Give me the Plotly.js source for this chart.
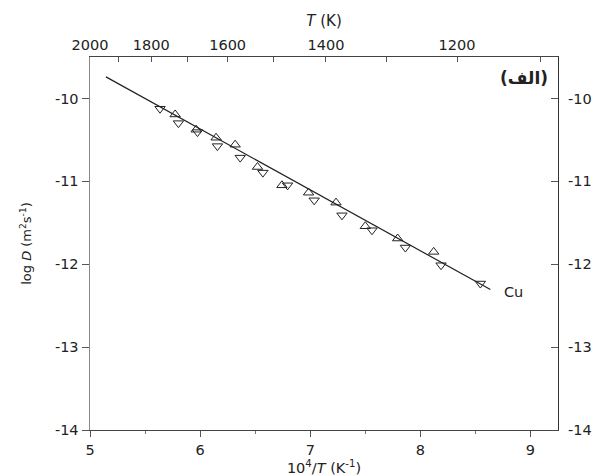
<!DOCTYPE html>
<html>
<head>
<meta charset="utf-8">
<script src="https://cdn.plot.ly/plotly-3.0.1.min.js"></script>
<style>html,body{margin:0;padding:0;background:#fff;}#chart{width:605px;height:476px;}</style>
</head>
<body>
<div id="chart"></div>
<script>
// Fitted line (log D vs 10^4/T)
const lineX = [5.145, 8.636];
const lineY = [-9.74, -12.305];

// Up-triangle data set
const upX = [5.773, 5.964, 6.145, 6.318, 6.521, 6.743, 6.985, 7.234, 7.500, 7.794, 8.121];
const upY = [-10.193, -10.377, -10.474, -10.558, -10.827, -11.048, -11.137, -11.257, -11.542, -11.690, -11.851];

// Down-triangle data set
const downX = [5.636, 5.803, 5.976, 6.157, 6.364, 6.570, 6.794, 7.036, 7.288, 7.561, 7.864, 8.188, 8.545];
const downY = [-10.124, -10.298, -10.406, -10.575, -10.714, -10.895, -11.048, -11.229, -11.410, -11.590, -11.799, -12.012, -12.233];

// Axis ticks
const bottomTicks = [5, 6, 7, 8, 9];
const bottomLabels = ['5', '6', '7', '8', '9'];
const yTicks = [-10, -11, -12, -13, -14];
const yLabels = ['-10', '-11', '-12', '-13', '-14'];
const topTemps = [2000, 1800, 1600, 1400, 1200];
const topLabels = ['2000', '1800', '1600', '1400', '1200'];
const topMinorTemps = [1900, 1700, 1500, 1300, 1100];

const topTickVals = topTemps.map(T => 1e4 / T);
const topMinorVals = topMinorTemps.map(T => 1e4 / T);

const FONT = 'DejaVu Sans, Liberation Sans, Arial, sans-serif';
const black = '#222';

const traces = [
  {x: lineX, y: lineY, mode: 'lines', line: {color: black, width: 1.2}, showlegend: false, hoverinfo: 'skip'},
  {x: upX, y: upY, mode: 'markers', marker: {symbol: 'triangle-up-open', size: 9, color: black, line: {width: 1, color: black}}, showlegend: false},
  {x: downX, y: downY, mode: 'markers', marker: {symbol: 'triangle-down-open', size: 9, color: black, line: {width: 1, color: black}}, showlegend: false},
  {x: [5, 9.25], y: [-14, -14], xaxis: 'x2', yaxis: 'y2', mode: 'markers', marker: {opacity: 0}, showlegend: false, hoverinfo: 'skip'}
];

const layout = {
  width: 605, height: 476,
  margin: {l: 90, r: 47, t: 57, b: 46},
  paper_bgcolor: '#fff', plot_bgcolor: '#fff',
  font: {family: FONT, size: 14, color: black},
  showlegend: false,
  xaxis: {
    range: [5, 9.25], tickvals: bottomTicks, ticktext: bottomLabels,
    ticks: 'outside', ticklen: 6, tickcolor: '#555', tickwidth: 1,
    minor: {dtick: 0.5, tick0: 5, ticks: 'outside', ticklen: 3, tickcolor: '#777'},
    showline: true, linecolor: '#444', linewidth: 1.2, showgrid: false, zeroline: false,
    title: {text: '10<sup>4</sup>/<i>T</i> (K<sup>-1</sup>)', font: {size: 14.5}, standoff: 5},
    tickfont: {size: 14.5}
  },
  xaxis2: {
    overlaying: 'x', side: 'top', anchor: 'y', range: [5, 9.25],
    tickmode: 'array', tickvals: topTickVals, ticktext: topLabels,
    ticks: 'inside', ticklen: 5, tickcolor: '#555',
    minor: {tickmode: 'array', tickvals: topMinorVals, ticks: 'inside', ticklen: 5, tickcolor: '#555'},
    showline: true, linecolor: '#444', linewidth: 1.2, showgrid: false, zeroline: false,
    title: {text: '<i>T</i> (K)', font: {size: 15}, standoff: 6},
    tickfont: {size: 14.5}
  },
  yaxis: {
    range: [-14, -9.5], tickvals: yTicks, ticktext: yLabels,
    ticks: 'outside', ticklen: 7, tickcolor: '#555',
    showline: true, linecolor: '#888', linewidth: 1.5, showgrid: false, zeroline: false,
    title: {text: 'log <i>D</i> (m<sup>2</sup>s<sup>-1</sup>)', font: {size: 13}, standoff: 20},
    tickfont: {size: 14.5}
  },
  yaxis2: {
    overlaying: 'y', side: 'right', anchor: 'x', range: [-14, -9.5],
    tickvals: yTicks, ticktext: yLabels,
    ticks: 'inside', ticklen: 7, tickcolor: '#555', ticklabelstandoff: 6,
    showline: true, linecolor: '#333', linewidth: 1.2, showgrid: false, zeroline: false,
    tickfont: {size: 14.5}
  },
  annotations: [
    {x: 8.85, y: -12.34, xref: 'x', yref: 'y', text: 'Cu', showarrow: false, xanchor: 'center', yanchor: 'middle', font: {size: 14.5}},
    {x: 0.983, y: 0.945, xref: 'paper', yref: 'paper', text: '<b>(الف)</b>', showarrow: false, xanchor: 'right', yanchor: 'middle', font: {size: 17, family: 'DejaVu Sans, Noto Sans, sans-serif'}}
  ]
};

Plotly.newPlot('chart', traces, layout, {staticPlot: true, displayModeBar: false});
</script>
</body>
</html>
